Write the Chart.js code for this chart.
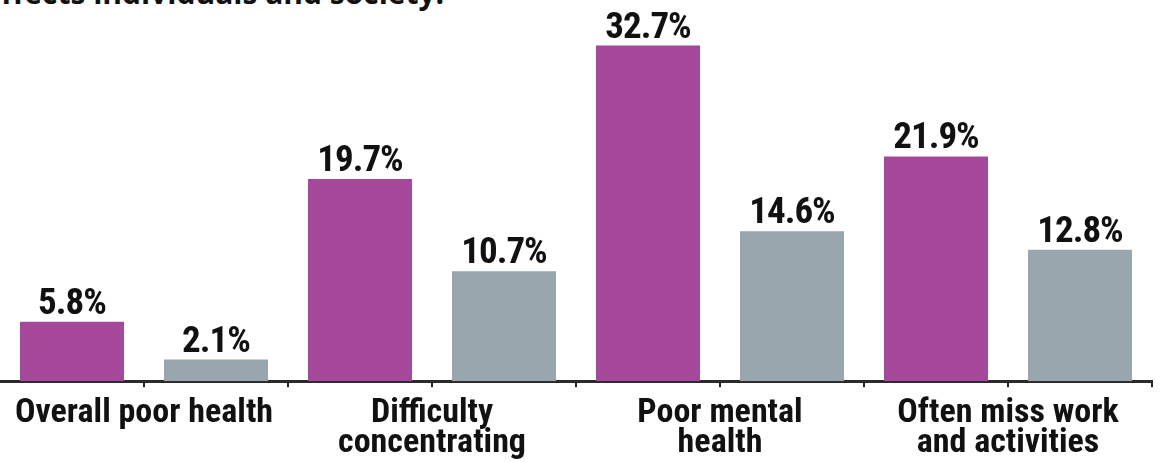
<!DOCTYPE html>
<html>
<head>
<meta charset="utf-8">
<script src="https://cdn.jsdelivr.net/npm/chart.js@4"></script>
<style>
  html, body { margin: 0; padding: 0; background: #ffffff; }
  #wrap { position: relative; width: 1162px; height: 462px; overflow: hidden; }
  #title { position: absolute; left: -17px; top: -28px; font: bold 30px "Open Sans", sans-serif; line-height: 41px; color: #111; white-space: nowrap; }
  canvas { position: absolute; left: 0; top: 0; }
</style>
</head>
<body>
<div id="wrap">
  <div id="title">affects individuals and society.</div>
  <canvas id="c" width="1162" height="462"></canvas>
</div>
<script>
// Data
const categories = [
  ["Overall poor health"],
  ["Difficulty", "concentrating"],
  ["Poor mental", "health"],
  ["Often miss work", "and activities"]
];
const seriesA = [5.8, 19.7, 32.7, 21.9];   // magenta
const seriesB = [2.1, 10.7, 14.6, 12.8];   // gray
const colorA = "#a5489a";
const colorB = "#99a6ae";

// Build slot layout: each category has two slots (A then B)
const slotLabels = [];
const dataA = [];
const dataB = [];
categories.forEach((c, i) => {
  slotLabels.push("a" + i); slotLabels.push("b" + i);
  dataA.push(seriesA[i]); dataA.push(null);
  dataB.push(null); dataB.push(seriesB[i]);
});

const labelFont = "'Roboto Condensed', 'Open Sans Condensed', sans-serif";

const valueLabels = {
  id: "valueLabels",
  afterDatasetsDraw(chart) {
    const ctx = chart.ctx;
    ctx.save();
    ctx.font = "bold 37px " + labelFont;
    if ("letterSpacing" in ctx) ctx.letterSpacing = "-1px";
    ctx.fillStyle = "#111111";
    ctx.textAlign = "center";
    ctx.textBaseline = "alphabetic";
    chart.data.datasets.forEach((ds, di) => {
      const meta = chart.getDatasetMeta(di);
      meta.data.forEach((el, i) => {
        const v = ds.data[i];
        if (v === null || v === undefined) return;
        ctx.fillText(v.toFixed(1) + "%", el.x, el.y - 8);
      });
    });
    ctx.restore();
  }
};

new Chart(document.getElementById("c"), {
  type: "bar",
  data: {
    labels: slotLabels,
    datasets: [
      { label: "A", data: dataA, backgroundColor: colorA, xAxisID: "x" },
      { label: "B", data: dataB, backgroundColor: colorB, xAxisID: "x" }
    ]
  },
  options: {
    responsive: false,
    animation: false,
    devicePixelRatio: 1,
    datasets: { bar: { grouped: false, categoryPercentage: 1.0, barPercentage: 0.722 } },
    layout: { padding: { top: 22, right: 10, left: 0, bottom: -7 } },
    plugins: { legend: { display: false }, tooltip: { enabled: false }, title: { display: false } },
    scales: {
      x: {
        type: "category",
        position: "bottom",
        offset: true,
        grid: {
          offset: true,
          drawOnChartArea: false,
          drawTicks: true,
          tickLength: 6,
          lineWidth: 2,
          color: (c) => (c.index === 0 ? "rgba(0,0,0,0)" : "#2a2a2a")
        },
        border: { display: true, color: "#2a2a2a", width: 3 },
        ticks: { display: false, autoSkip: false }
      },
      xl: {
        type: "category",
        position: "bottom",
        labels: categories,
        offset: true,
        grid: { display: false, drawTicks: false },
        border: { display: false },
        ticks: {
          autoSkip: false,
          maxRotation: 0,
          minRotation: 0,
          padding: 11,
          color: "#111111",
          font: { family: labelFont, weight: "bold", size: 34, lineHeight: 0.88 }
        }
      },
      y: {
        display: false,
        min: 0,
        max: 35,
        grid: { display: false }
      }
    }
  },
  plugins: [valueLabels]
});
</script>
</body>
</html>
